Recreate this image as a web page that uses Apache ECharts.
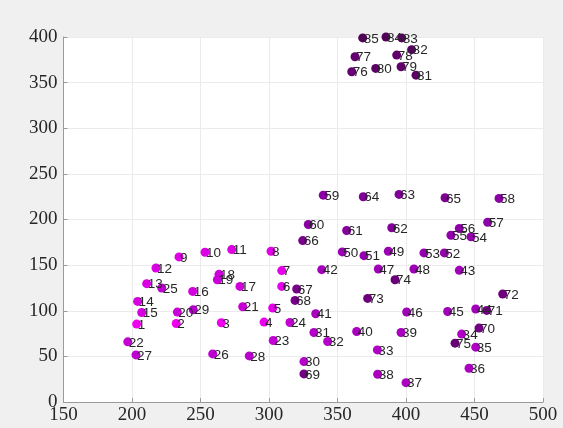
<!DOCTYPE html>
<html>
<head>
<meta charset="utf-8">
<script src="https://cdn.jsdelivr.net/npm/echarts@6/dist/echarts.min.js"></script>
<style>html,body{margin:0;padding:0;background:#f0f0f0;}#c{width:563px;height:428px;}</style>
</head>
<body>
<div id="c"></div>
<script>
const labels = [];
for (let i = 1; i <= 85; i++) labels.push(String(i));
const xs = [203.4,232.3,265.2,296.4,302.7,309.3,309.3,301.5,234.3,253.3,
  272.8,217.5,210.7,204.1,207.1,244.3,278.8,263.5,262.3,233.1,
  280.8,196.9,303.1,315.3,221.7,258.9,202.9,285.6,244.7,325.5,
  332.8,342.8,379.1,440.6,450.9,446,400,379.3,396.4,364,
  334.1,338.5,438.9,450.9,430.4,400.5,379.8,405.8,387.1,353.5,
  369.3,428,413.1,447.4,432.8,438.9,459.6,467.9,339.6,328.7,
  356.7,389.6,394.9,368.8,428.5,324.6,320.2,319,325.5,453.3,
  458.9,470.6,372,392,435.8,360.4,362.8,393.2,396.4,377.9,
  407.3,404.1,396.9,385.4,368.4];
const ys = [85.4,86,86.8,87.6,103,126.7,144,165.2,159,164.1,
  167,146.9,129.7,110.2,98.1,121.2,126.7,139.9,134,98.5,
  104.4,65.9,67.4,87.1,124.9,52.7,51.6,50.5,101.1,44.3,
  76.2,66.3,57.1,74.4,60.1,37,21.2,30.4,76.2,77.3,
  96.7,145,144.3,101.9,99.2,98.6,145.8,145.8,165.2,164.5,
  160.4,163.4,163.4,181,182.7,190.1,197,223.1,226.7,194.5,
  187.9,190.9,227.5,224.9,223.8,176.9,123.8,111.3,30.8,81,
  100.4,118.3,113.5,134,64.5,361.9,378.4,380.2,367.4,365.6,
  358.2,386.1,399,400,399];
const xTicks = [150,200,250,300,350,400,450,500];
const yTicks = [0,50,100,150,200,250,300,350,400];

const data = xs.map((x, i) => [x, ys[i], i + 1, labels[i]]);

const chart = echarts.init(document.getElementById('c'), null, {renderer: 'canvas'});
const axisLbl = {color: '#262626', fontFamily: 'Liberation Serif', fontSize: 19};
chart.setOption({
  backgroundColor: '#f0f0f0',
  animation: false,
  grid: {left: 63.5, right: 20, top: 37, bottom: 26, show: true, backgroundColor: '#ffffff', borderWidth: 0},
  xAxis: {
    type: 'value', min: xTicks[0], max: xTicks[xTicks.length-1], interval: 50,
    axisLine: {show: true, lineStyle: {color: '#9a9a9a', width: 1}},
    axisTick: {show: true, inside: true, length: 4, lineStyle: {color: '#9a9a9a'}},
    splitLine: {show: true, lineStyle: {color: '#ebebeb', width: 1}},
    axisLabel: Object.assign({margin: 4, formatter: v => xTicks.includes(v) ? String(v) : ''}, axisLbl)
  },
  yAxis: {
    type: 'value', min: yTicks[0], max: yTicks[yTicks.length-1], interval: 50,
    axisLine: {show: true, lineStyle: {color: '#9a9a9a', width: 1}},
    axisTick: {show: true, inside: true, length: 4, lineStyle: {color: '#9a9a9a'}},
    splitLine: {show: true, lineStyle: {color: '#ebebeb', width: 1}},
    axisLabel: Object.assign({margin: 6, formatter: v => yTicks.includes(v) ? String(v) : ''}, axisLbl)
  },
  visualMap: {
    show: false, type: 'continuous', dimension: 2, min: 1, max: 85,
    inRange: {color: ['#f000f0', '#b800cc', '#8e00a8', '#520058']}
  },
  series: [{
    type: 'scatter',
    data: data,
    symbol: 'circle',
    symbolSize: 9,
    clip: false,
    itemStyle: {opacity: 1},
    label: {
      show: true,
      formatter: p => p.data[3],
      position: [5.5, 5.5],
      align: 'left',
      verticalAlign: 'middle',
      color: '#262626',
      fontFamily: 'Liberation Sans',
      fontSize: 13.5
    },
    labelLayout: {hideOverlap: false}
  }]
});
</script>
</body>
</html>
